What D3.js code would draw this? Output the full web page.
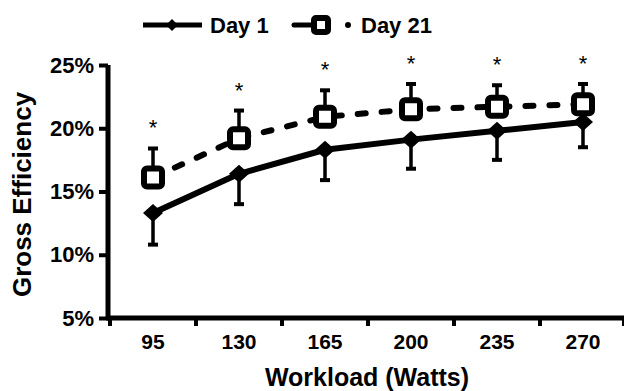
<!DOCTYPE html>
<html>
<head>
<meta charset="utf-8">
<script src="https://cdn.jsdelivr.net/npm/d3@7"></script>
<style>
  body { margin: 0; background: #fff; }
  svg { display: block; font-family: "Liberation Sans", Arial, sans-serif; }
</style>
</head>
<body>
<svg id="chart" width="624" height="391"></svg>
<script>
// workload categories (Watts)
const workloads = ['95', '130', '165', '200', '235', '270'];
// gross efficiency, % (mean and SD)
const day1 = [13.3, 16.4, 18.3, 19.1, 19.8, 20.5];
const day1SD = [2.5, 2.4, 2.4, 2.3, 2.3, 2.0];
const day21 = [16.1, 19.2, 20.9, 21.5, 21.7, 21.9];
const day21SD = [2.3, 2.2, 2.1, 2.0, 1.7, 1.6];
const significant = [true, true, true, true, true, true];
const yTicks = [5, 10, 15, 20, 25];

const svg = d3.select('#chart');

const x = d3.scaleBand().domain(workloads).range([110, 626]).padding(0);
const y = d3.scaleLinear().domain([5, 25]).range([318, 65]);
const cx = d => x(d) + x.bandwidth() / 2;

// y axis
const yAxis = svg.append('g')
  .attr('transform', 'translate(108,0)')
  .call(d3.axisLeft(y).tickValues(yTicks).tickSize(9).tickPadding(5).tickFormat(d => d + '%'));
yAxis.select('.domain').attr('stroke-width', 5).attr('d', `M0,${y(25)}V${y(5) + 2}`);
yAxis.selectAll('.tick line').attr('stroke-width', 4);
yAxis.selectAll('.tick text')
  .attr('font-size', 22).attr('font-weight', 'bold').attr('fill', '#000');

// x axis
const xAxis = svg.append('g')
  .attr('transform', `translate(0,${y(5)})`)
  .call(d3.axisBottom(x).tickSize(0).tickPadding(16));
xAxis.select('.domain').attr('stroke-width', 5).attr('d', `M106,0H624`);
xAxis.selectAll('.tick text')
  .attr('font-size', 21).attr('font-weight', 'bold').attr('fill', '#000');
xAxis.selectAll('.edge')
  .data(workloads.map(w => x(w)).concat([x.range()[1] - 2]))
  .join('line')
  .attr('x1', d => d).attr('x2', d => d)
  .attr('y1', 0).attr('y2', 8)
  .attr('stroke', '#000').attr('stroke-width', 4);

// axis titles
svg.append('text')
  .attr('transform', `translate(31,${(y(25) + y(5)) / 2 + 3}) rotate(-90)`)
  .attr('text-anchor', 'middle')
  .attr('font-size', 26).attr('font-weight', 'bold')
  .text('Gross Efficiency');
svg.append('text')
  .attr('x', 367).attr('y', 386)
  .attr('text-anchor', 'middle')
  .attr('font-size', 25).attr('font-weight', 'bold')
  .text('Workload (Watts)');

const rows = workloads.map((w, i) => ({
  w, d1: day1[i], s1: day1SD[i], d21: day21[i], s21: day21SD[i], sig: significant[i]
}));

// error bars: Day 1 downward, Day 21 upward
const eb = svg.append('g').attr('stroke', '#000');
eb.selectAll('.e1').data(rows).join('line')
  .attr('x1', d => cx(d.w)).attr('x2', d => cx(d.w))
  .attr('y1', d => y(d.d1)).attr('y2', d => y(d.d1 - d.s1))
  .attr('stroke-width', 3.5);
eb.selectAll('.c1').data(rows).join('line')
  .attr('x1', d => cx(d.w) - 5).attr('x2', d => cx(d.w) + 5)
  .attr('y1', d => y(d.d1 - d.s1)).attr('y2', d => y(d.d1 - d.s1))
  .attr('stroke-width', 4);
eb.selectAll('.e21').data(rows).join('line')
  .attr('x1', d => cx(d.w)).attr('x2', d => cx(d.w))
  .attr('y1', d => y(d.d21)).attr('y2', d => y(d.d21 + d.s21))
  .attr('stroke-width', 3.5);
eb.selectAll('.c21').data(rows).join('line')
  .attr('x1', d => cx(d.w) - 5).attr('x2', d => cx(d.w) + 5)
  .attr('y1', d => y(d.d21 + d.s21)).attr('y2', d => y(d.d21 + d.s21))
  .attr('stroke-width', 4);

// lines
svg.append('path').datum(rows)
  .attr('fill', 'none').attr('stroke', '#000').attr('stroke-width', 6)
  .attr('stroke-linejoin', 'round')
  .attr('d', d3.line().x(d => cx(d.w)).y(d => y(d.d1)));
svg.append('path').datum(rows)
  .attr('fill', 'none').attr('stroke', '#000').attr('stroke-width', 6)
  .attr('stroke-dasharray', '8,16').attr('stroke-linecap', 'round')
  .attr('d', d3.line().x(d => cx(d.w)).y(d => y(d.d21)));

// markers
const diamond = (w, h) => `M0,${-h / 2}L${w / 2},0L0,${h / 2}L${-w / 2},0Z`;
svg.selectAll('.m1').data(rows).join('path')
  .attr('transform', d => `translate(${cx(d.w)},${y(d.d1)})`)
  .attr('d', diamond(20, 18))
  .attr('fill', '#000');
svg.selectAll('.m21').data(rows).join('rect')
  .attr('x', d => cx(d.w) - 9).attr('y', d => y(d.d21) - 9)
  .attr('width', 18).attr('height', 18).attr('rx', 3)
  .attr('fill', '#fff').attr('stroke', '#000').attr('stroke-width', 6);

// significance asterisks
svg.selectAll('.star').data(rows.filter(d => d.sig)).join('text')
  .attr('x', d => cx(d.w)).attr('y', d => y(d.d21 + d.s21) - 13)
  .attr('text-anchor', 'middle')
  .attr('font-size', 22)
  .text('*');

// legend
const lg = svg.append('g').attr('transform', 'translate(0,25)');
lg.append('line').attr('x1', 143).attr('x2', 202).attr('stroke', '#000').attr('stroke-width', 5);
lg.append('path').attr('transform', 'translate(172,0)').attr('d', diamond(12, 12)).attr('fill', '#000');
lg.append('text').attr('x', 210).attr('y', 8).attr('font-size', 22).attr('font-weight', 'bold')
  .text('Day 1');
lg.append('line').attr('x1', 294).attr('x2', 312).attr('stroke', '#000').attr('stroke-width', 5)
  .attr('stroke-linecap', 'round');
lg.append('rect').attr('x', 314).attr('y', -7).attr('width', 14).attr('height', 14).attr('rx', 2)
  .attr('fill', '#fff').attr('stroke', '#000').attr('stroke-width', 6);
lg.append('circle').attr('cx', 348).attr('cy', 0).attr('r', 3).attr('fill', '#000');
lg.append('text').attr('x', 361).attr('y', 8).attr('font-size', 22).attr('font-weight', 'bold')
  .text('Day 21');
</script>
</body>
</html>
